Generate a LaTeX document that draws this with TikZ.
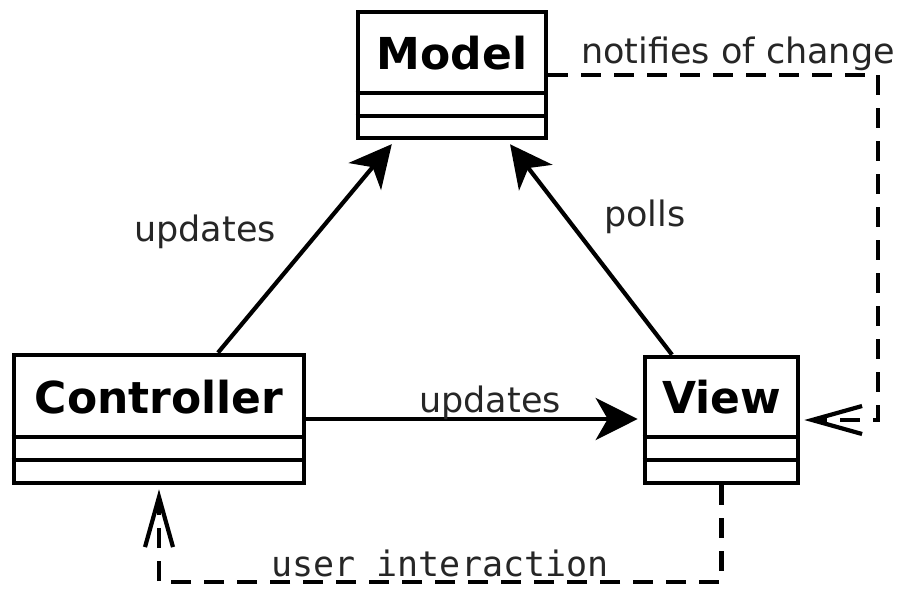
\documentclass[tikz,border=0pt]{standalone}
\usepackage{fontspec}
\setmainfont{DejaVu Sans}
\setmonofont{DejaVu Sans Mono}
\usetikzlibrary{arrows.meta}
\begin{document}
\begin{tikzpicture}[x=1pt,y=-1pt,
  classbox/.style={draw, line width=4.6pt, rectangle, inner sep=0pt},
  classname/.style={font=\fontsize{44}{44}\selectfont\bfseries, inner sep=0pt},
  lbl/.style={font=\fontsize{35}{35}\selectfont, text=black!85, inner sep=0pt},
  assoc/.style={line width=4.2pt, -{Stealth[length=42pt,width=42pt,inset=12pt]}, shorten >=5pt},
  depend/.style={line width=4.4pt, dash pattern=on 20pt off 13pt,
    -{Straight Barb[length=50pt,width=28pt,line width=4.2pt]}, shorten >=4pt}]
\useasboundingbox (0,0) rectangle (908,590);

% classes
\node[classbox, minimum width=188pt, minimum height=126pt] (model) at (452,75) {};
\node[classbox, minimum width=290pt, minimum height=128pt] (ctrl) at (159,419) {};
\node[classbox, minimum width=153pt, minimum height=126pt] (view) at (721.5,420) {};

\node[classname] (modelT) at (452,53) {Model};
\node[classname] (ctrlT) at (159,397) {Controller};
\node[classname] (viewT) at (721.5,397) {View};

% compartment separators
\foreach \n/\a/\b in {model/93/116, ctrl/437/460, view/437/460} {
  \draw[line width=4.4pt] (\n.west |- 0,\a) -- (\n.east |- 0,\a);
  \draw[line width=4.4pt] (\n.west |- 0,\b) -- (\n.east |- 0,\b);
}

% associations
\draw[assoc] ([xshift=59pt]ctrl.north) -- ([xshift=-57pt]model.south);
\draw[assoc] ([xshift=-49.5pt]view.north) -- ([xshift=55pt]model.south);
\draw[assoc] (ctrl.east) -- (ctrl.east -| view.west);

% dependencies
\coordinate (nr) at (878,420);
\draw[depend] (model.east) -| (nr) -- (view.east);
\coordinate (ub) at (159,582);
\draw[depend] (view.south) |- (ub) -- (ctrl.south);

% labels
\node[lbl] (l1) at (205,232) {updates};
\node[lbl] (l2) at (645,217) {polls};
\node[lbl] (l3) at (490,403) {updates};
\node[lbl] (l4) at (738,54) {notifies of change};
\node[lbl, font=\fontsize{35}{35}\selectfont\ttfamily] (l5) at (440,563) {user interaction};
\end{tikzpicture}
\end{document}
